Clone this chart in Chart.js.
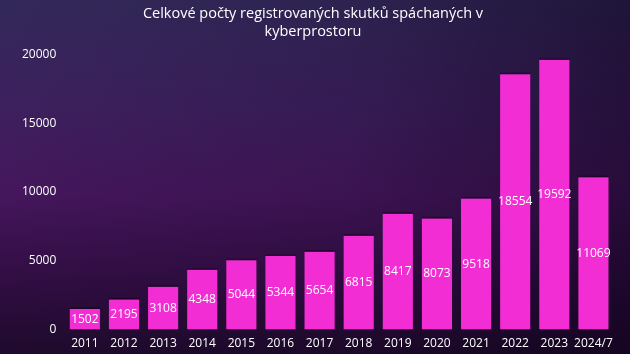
<!DOCTYPE html>
<html lang="cs">
<head>
<meta charset="UTF-8"/>
<script src="https://cdn.jsdelivr.net/npm/chart.js@4/dist/chart.umd.min.js"></script>
<style>
  *{box-sizing:border-box;margin:0;padding:0}
  html,body{width:630px;height:354px;overflow:hidden}
  body{background:
    linear-gradient(90deg,rgba(0,0,0,0) 0%,rgba(12,0,24,0.15) 55%,rgba(12,0,24,0.5) 100%),
    linear-gradient(180deg,#33295a 0%,#3d205e 30%,#45165c 55%,#300d42 80%,#1f0a2c 100%);}
  .wrap{position:relative;width:630px;height:354px}
</style>
</head>
<body>
<div class="wrap"><canvas id="c"></canvas></div>
<script>
const years  = ['2011','2012','2013','2014','2015','2016','2017','2018','2019','2020','2021','2022','2023','2024/7'];
const counts = [1502, 2195, 3108, 4348, 5044, 5344, 5654, 6815, 8417, 8073, 9518, 18554, 19592, 11069];
const yTicks = [0, 5000, 10000, 15000, 20000];

const FONT = "'Open Sans','Noto Sans',sans-serif";

// hodnoty uprostřed sloupců + tmavý okraj nahoře
const midLabels = {
  id: 'midLabels',
  afterDatasetsDraw(chart) {
    const ctx = chart.ctx;
    const meta = chart.getDatasetMeta(0);
    ctx.save();
    meta.data.forEach((bar) => {
      ctx.fillStyle = 'rgba(20,0,30,0.55)';
      ctx.fillRect(bar.x - bar.width / 2, bar.y - 1.5, bar.width, 1.5);
    });
    ctx.fillStyle = '#ffffff';
    ctx.font = '12px ' + FONT;
    ctx.textAlign = 'center';
    ctx.textBaseline = 'middle';
    meta.data.forEach((bar, i) => {
      ctx.fillText(String(counts[i]), bar.x, (bar.y + bar.base) / 2);
    });
    ctx.restore();
  }
};

new Chart(document.getElementById('c'), {
  type: 'bar',
  data: {
    labels: years,
    datasets: [{
      data: counts,
      backgroundColor: '#f22dd4',
      borderWidth: 0,
      categoryPercentage: 0.77,
      barPercentage: 1
    }]
  },
  options: {
    responsive: true,
    maintainAspectRatio: false,
    animation: false,
    layout: { padding: { left: 13, right: 17, top: 4, bottom: -4 } },
    plugins: {
      legend: { display: false },
      tooltip: { enabled: false },
      title: {
        display: true,
        text: ['Celkové počty registrovaných skutků spáchaných v', 'kyberprostoru'],
        color: '#ffffff',
        font: { family: FONT, size: 14.5, weight: 'normal', lineHeight: 1.25 },
        padding: { top: 1, bottom: 13 }
      }
    },
    scales: {
      x: {
        grid: { display: false, drawTicks: false },
        border: { display: false },
        ticks: { color: '#ffffff', font: { family: FONT, size: 12 }, padding: 7, maxRotation: 0, autoSkip: false }
      },
      y: {
        min: 0, max: 20000,
        afterBuildTicks: (axis) => { axis.ticks = yTicks.map(v => ({ value: v })); },
        grid: { display: false, drawTicks: false },
        border: { display: false },
        ticks: { color: '#ffffff', font: { family: FONT, size: 12 }, padding: 9, callback: (v) => String(v) }
      }
    }
  },
  plugins: [midLabels]
});
</script>
</body>
</html>
